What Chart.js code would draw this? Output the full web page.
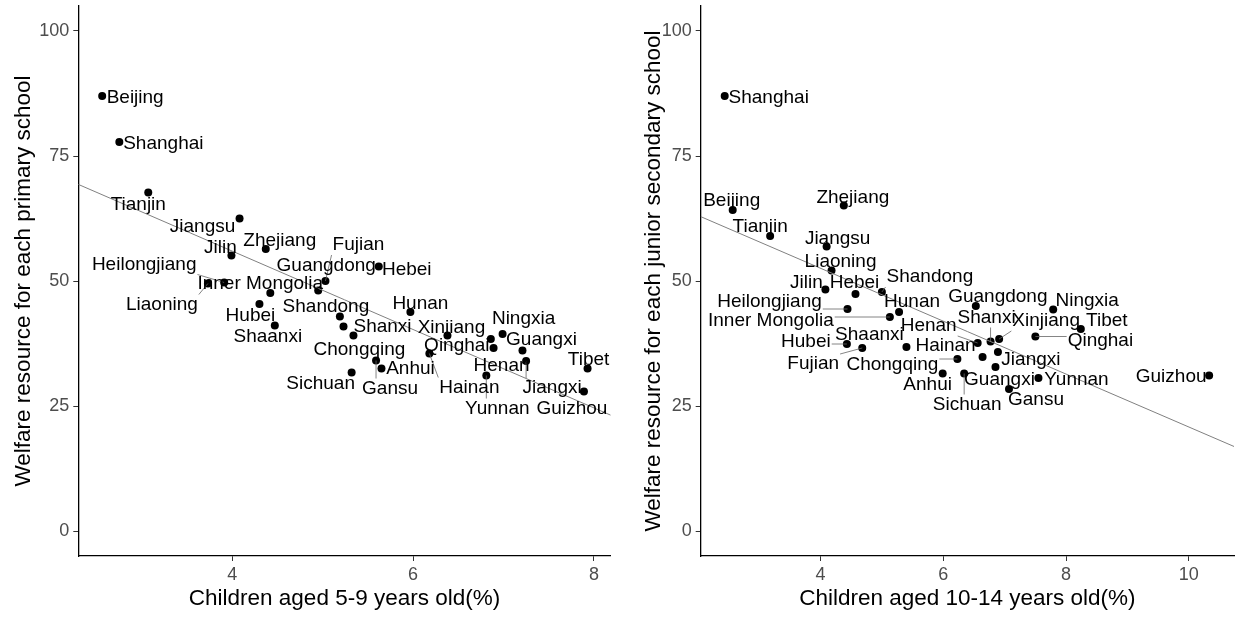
<!DOCTYPE html>
<html>
<head>
<meta charset="utf-8">
<script src="https://cdn.jsdelivr.net/npm/chart.js@4.4.0/dist/chart.umd.min.js"></script>
<style>
html, body { margin: 0; padding: 0; background: #fff; }
#wrap { position: relative; width: 1238px; height: 617px; }
.panel { position: absolute; top: 0; width: 619px; height: 617px; }
</style>
</head>
<body>
<div id="wrap">
  <div class="panel" style="left:0"><canvas id="primaryChart" width="619" height="617"></canvas></div>
  <div class="panel" style="left:619px"><canvas id="secondaryChart" width="619" height="617"></canvas></div>
</div>
<script>
// dados (mesma ordem de provincias nas duas series)
const provinces = ['Beijing', 'Tianjin', 'Hebei', 'Shanxi', 'Inner Mongolia', 'Liaoning', 'Jilin', 'Heilongjiang',
  'Shanghai', 'Jiangsu', 'Zhejiang', 'Anhui', 'Fujian', 'Jiangxi', 'Shandong', 'Henan', 'Hubei', 'Hunan',
  'Guangdong', 'Guangxi', 'Hainan', 'Chongqing', 'Sichuan', 'Guizhou', 'Yunnan', 'Tibet', 'Shaanxi',
  'Gansu', 'Qinghai', 'Ningxia', 'Xinjiang'];

const primaryShare = [2.56, 3.07, 5.62, 5.23, 4.42, 3.73, 3.99, 3.91, 2.75, 4.08, 4.37, 5.65, 5.03, 7.25, 5.19, 6.89,
  4.30, 5.97, 4.95, 7.21, 6.18, 5.34, 5.32, 7.89, 6.81, 7.93, 4.47, 5.59, 6.86, 6.99, 6.38];
const primaryWelfare = [87.0, 67.7, 52.9, 40.9, 47.6, 49.5, 55.1, 49.7, 77.8, 62.5, 56.4, 32.5, 50.0, 34.0, 42.9, 36.6,
  45.4, 43.8, 48.1, 36.1, 35.5, 39.1, 31.7, 27.9, 31.1, 32.5, 41.1, 34.1, 38.4, 39.4, 39.1];

const secondaryShare = [2.57, 3.18, 4.57, 6.77, 5.13, 4.18, 4.08, 4.44, 2.44, 4.10, 4.38, 5.99, 4.68, 6.89, 5.00, 6.56,
  4.43, 5.28, 6.53, 6.85, 6.64, 6.23, 6.34, 10.33, 7.55, 8.24, 5.40, 7.07, 7.50, 7.79, 6.91];
const secondaryWelfare = [64.2, 59.0, 47.4, 37.9, 42.8, 52.1, 48.3, 44.4, 87.0, 56.9, 65.1, 31.5, 36.6, 35.8, 47.8, 37.6,
  37.4, 43.8, 45.0, 32.8, 34.8, 34.4, 31.5, 31.1, 30.6, 40.4, 36.8, 28.4, 38.9, 44.3, 38.4];

const welfareTicks = [0, 25, 50, 75, 100];
const primaryTicks = [4, 6, 8];
const secondaryTicks = [4, 6, 8, 10];

// posicao dos rotulos (deslocamento em px a partir do ponto) e quais tem linha guia
const primaryLabelPos = {
  'Beijing': [33, 2], 'Shanghai': [44, 2], 'Tianjin': [-10, 12], 'Jiangsu': [-37, 8], 'Zhejiang': [14, -8],
  'Jilin': [-11, -8], 'Heilongjiang': [-80, -18], 'Inner Mongolia': [-10, -9], 'Liaoning': [-46, 21],
  'Hubei': [-9, 12], 'Shaanxi': [-7, 11], 'Fujian': [33, -36], 'Guangdong': [8, -25], 'Hebei': [28, 3],
  'Shandong': [-14, -10], 'Shanxi': [39, 0], 'Chongqing': [6, 14], 'Hunan': [10, -8], 'Sichuan': [-31, 11],
  'Gansu': [14, 28], 'Anhui': [29, 0], 'Xinjiang': [4, -8], 'Qinghai': [-34, 7], 'Hainan': [40, 34],
  'Ningxia': [21, -15], 'Guangxi': [19, -11], 'Henan': [8, 18], 'Jiangxi': [26, 27], 'Yunnan': [11, 33],
  'Guizhou': [-12, 17], 'Tibet': [1, -9]
};
const primarySegments = ['Heilongjiang', 'Liaoning', 'Fujian', 'Gansu', 'Hainan', 'Jiangxi', 'Yunnan'];

const secondaryLabelPos = {
  'Shanghai': [44, 2], 'Beijing': [-1, -9], 'Zhejiang': [9, -8], 'Tianjin': [-10, -9], 'Jiangsu': [11, -8],
  'Liaoning': [9, -9], 'Jilin': [-19, -7], 'Hebei': [-1, -11], 'Shandong': [48, -15], 'Heilongjiang': [-78, -7],
  'Hunan': [13, -10], 'Inner Mongolia': [-119, 4], 'Guangdong': [22, -9], 'Ningxia': [34, -9], 'Tibet': [26, -8],
  'Xinjiang': [47, -18], 'Qinghai': [65, 4], 'Shanxi': [-4, -24], 'Henan': [-49, -17], 'Shaanxi': [-37, -12],
  'Hubei': [-41, -2], 'Hainan': [-37, -11], 'Fujian': [-49, 16], 'Chongqing': [-65, 6], 'Jiangxi': [33, 8],
  'Guangxi': [4, 13], 'Anhui': [-15, 11], 'Sichuan': [3, 31], 'Gansu': [27, 11], 'Yunnan': [38, 2],
  'Guizhou': [-38, 1]
};
const secondarySegments = ['Shandong', 'Heilongjiang', 'Inner Mongolia', 'Xinjiang', 'Qinghai', 'Shanxi',
  'Henan', 'Hubei', 'Fujian', 'Chongqing', 'Sichuan'];

const fonte = "'Liberation Sans', Arial, sans-serif";

// reta de minimos quadrados
function retaAjuste(xs, ys, x0, x1) {
  const n = xs.length;
  const mx = xs.reduce((a, b) => a + b, 0) / n;
  const my = ys.reduce((a, b) => a + b, 0) / n;
  let sxy = 0, sxx = 0;
  for (let i = 0; i < n; i++) {
    sxy += (xs[i] - mx) * (ys[i] - my);
    sxx += (xs[i] - mx) * (xs[i] - mx);
  }
  const b = sxy / sxx;
  const a = my - b * mx;
  return [{ x: x0, y: a + b * x0 }, { x: x1, y: a + b * x1 }];
}

const rotulosPlugin = {
  id: 'rotulos',
  afterDatasetsDraw(chart, args, opts) {
    const ctx = chart.ctx;
    const xs = chart.scales.x, ys = chart.scales.y;
    ctx.save();
    ctx.font = '19px ' + fonte;
    ctx.textAlign = 'center';
    ctx.textBaseline = 'middle';
    provinces.forEach((nome, i) => {
      const px = xs.getPixelForValue(opts.xv[i]);
      const py = ys.getPixelForValue(opts.yv[i]);
      const off = opts.pos[nome] || [0, -10];
      const cx = px + off[0], cy = py + off[1];
      if (opts.seg.includes(nome)) {
        const w = ctx.measureText(nome).width / 2 + 1;
        const h = 10;
        const ex = Math.min(Math.max(px, cx - w), cx + w);
        const ey = Math.min(Math.max(py, cy - h), cy + h);
        ctx.strokeStyle = '#666';
        ctx.lineWidth = 0.8;
        ctx.beginPath();
        ctx.moveTo(px, py);
        ctx.lineTo(ex, ey);
        ctx.stroke();
      }
    });
    ctx.fillStyle = '#000';
    provinces.forEach((nome, i) => {
      const px = xs.getPixelForValue(opts.xv[i]);
      const py = ys.getPixelForValue(opts.yv[i]);
      const off = opts.pos[nome] || [0, -10];
      ctx.fillText(nome, px + off[0], py + off[1]);
    });
    ctx.restore();
  }
};

function criarGrafico(id, xv, yv, xTicks, xMin, xMax, xTitulo, yTitulo, pos, seg, larguraY, padDir, padTitulo) {
  const ctx = document.getElementById(id).getContext('2d');
  return new Chart(ctx, {
    type: 'scatter',
    data: {
      datasets: [{
        data: xv.map((x, i) => ({ x: x, y: yv[i] })),
        backgroundColor: '#000',
        borderWidth: 0,
        pointRadius: 4,
        order: 2
      }, {
        type: 'line',
        data: retaAjuste(xv, yv, xMin, xMax),
        borderColor: '#808080',
        borderWidth: 1,
        pointRadius: 0,
        fill: false,
        order: 1
      }]
    },
    options: {
      responsive: false,
      animation: false,
      layout: { padding: { left: 0, right: padDir, top: 6, bottom: 0 } },
      plugins: {
        legend: { display: false },
        tooltip: { enabled: false },
        rotulos: { xv: xv, yv: yv, pos: pos, seg: seg }
      },
      scales: {
        x: {
          type: 'linear',
          min: xMin,
          max: xMax,
          afterBuildTicks: s => { s.ticks = xTicks.map(v => ({ value: v })); },
          afterFit: s => { s.height = 61; s.paddingLeft = 0; s.paddingRight = 0; },
          grid: { drawOnChartArea: false, drawTicks: true, tickLength: 5, color: '#333' },
          border: { display: true, color: '#000', width: 1.3 },
          ticks: { color: '#4d4d4d', font: { size: 18, family: fonte }, padding: 3, maxRotation: 0, autoSkip: false },
          title: { display: true, text: xTitulo, color: '#000', font: { size: 22.5, family: fonte }, padding: { top: 0, bottom: 5 } }
        },
        y: {
          type: 'linear',
          min: -5,
          max: 105,
          afterBuildTicks: s => { s.ticks = welfareTicks.map(v => ({ value: v })); },
          afterFit: s => { s.width = larguraY; s.paddingTop = 0; s.paddingBottom = 0; },
          grid: { drawOnChartArea: false, drawTicks: true, tickLength: 5, color: '#333' },
          border: { display: true, color: '#000', width: 1.3 },
          ticks: { color: '#4d4d4d', font: { size: 18, family: fonte }, padding: 4, autoSkip: false },
          title: { display: true, text: yTitulo, color: '#000', font: { size: 22.5, family: fonte }, padding: { top: padTitulo, bottom: 0 } }
        }
      }
    },
    plugins: [rotulosPlugin]
  });
}

criarGrafico('primaryChart', primaryShare, primaryWelfare, primaryTicks, 2.296, 8.186,
  'Children aged 5-9 years old(%)', 'Welfare resource for each primary school',
  primaryLabelPos, primarySegments, 78.3, 8.3, 10);

criarGrafico('secondaryChart', secondaryShare, secondaryWelfare, secondaryTicks, 2.049, 10.735,
  'Children aged 10-14 years old(%)', 'Welfare resource for each junior secondary school',
  secondaryLabelPos, secondarySegments, 81.7, 4, 21);
</script>
</body>
</html>
